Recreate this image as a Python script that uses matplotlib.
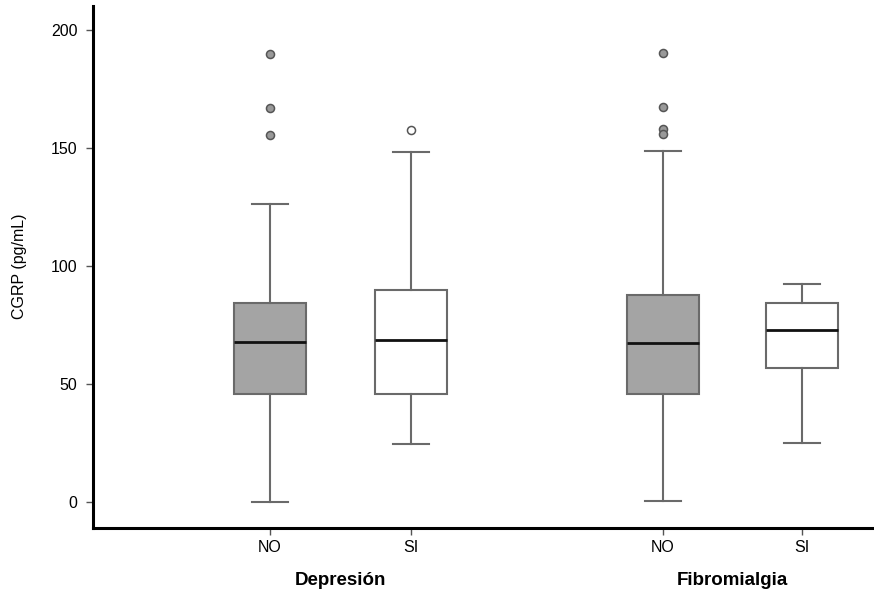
import matplotlib.pyplot as plt

plt.rcParams['font.family'] = ['Liberation Sans', 'DejaVu Sans']

# valores
grupos = ['Depresión', 'Fibromialgia']
categorias = ['NO', 'SI', 'NO', 'SI']
medianas = [67.7, 68.4, 67.1, 72.5]
q1 = [45.5, 45.5, 45.6, 56.6]
q3 = [84.3, 89.7, 87.6, 84.3]
bigote_inf = [0.0, 24.4, 0.3, 24.7]
bigote_sup = [125.9, 148.3, 148.4, 92.0]
atipicos = [[189.7, 167.0, 155.2], [157.3], [189.9, 167.1, 157.9, 155.6], []]

pos = [1, 2, 3.785, 4.775]
relleno = ['#a4a4a4', 'white', '#a4a4a4', 'white']

stats = []
for i in range(4):
    stats.append({'med': medianas[i], 'q1': q1[i], 'q3': q3[i],
                  'whislo': bigote_inf[i], 'whishi': bigote_sup[i],
                  'fliers': atipicos[i]})

fig = plt.figure(figsize=(8.74, 5.96), dpi=100)
ax = fig.add_axes([0.106, 0.1146, 0.893, 0.876])

gris = '#6a6a6a'
for i in range(4):
    fc = relleno[i]
    ax.bxp([stats[i]], positions=[pos[i]], widths=0.51, capwidths=0.255,
           patch_artist=True, manage_ticks=False,
           boxprops=dict(facecolor=fc, edgecolor=gris, linewidth=1.5),
           whiskerprops=dict(color=gris, linewidth=1.5),
           capprops=dict(color=gris, linewidth=1.5),
           medianprops=dict(color='#111111', linewidth=2),
           flierprops=dict(marker='o', markersize=5.8,
                           markerfacecolor='#999999' if fc != 'white' else 'white',
                           markeredgecolor='#555555', markeredgewidth=1.1))

ax.set_xlim(-0.257, 5.277)
ax.set_ylim(-11.1, 210.2)
ax.set_yticks([0, 50, 100, 150, 200])
ax.set_xticks(pos)
ax.set_xticklabels(categorias)
ax.tick_params(axis='both', labelsize=11.5, length=5, width=1, color='#555555', pad=6)
ax.tick_params(axis='x', pad=4)

for s in ['top', 'right']:
    ax.spines[s].set_visible(False)
ax.spines['left'].set_linewidth(2.2)
ax.spines['bottom'].set_linewidth(2.2)

ax.set_ylabel('CGRP (pg/mL)', fontsize=11.5, labelpad=17)

centros = [(pos[0] + pos[1]) / 2, (pos[2] + pos[3]) / 2]
for c, g in zip(centros, grupos):
    ax.text(c, -0.102, g, transform=ax.get_xaxis_transform(), ha='center', va='center',
            fontsize=13.5, fontweight='bold')

fig.savefig('out.png', dpi=100)
